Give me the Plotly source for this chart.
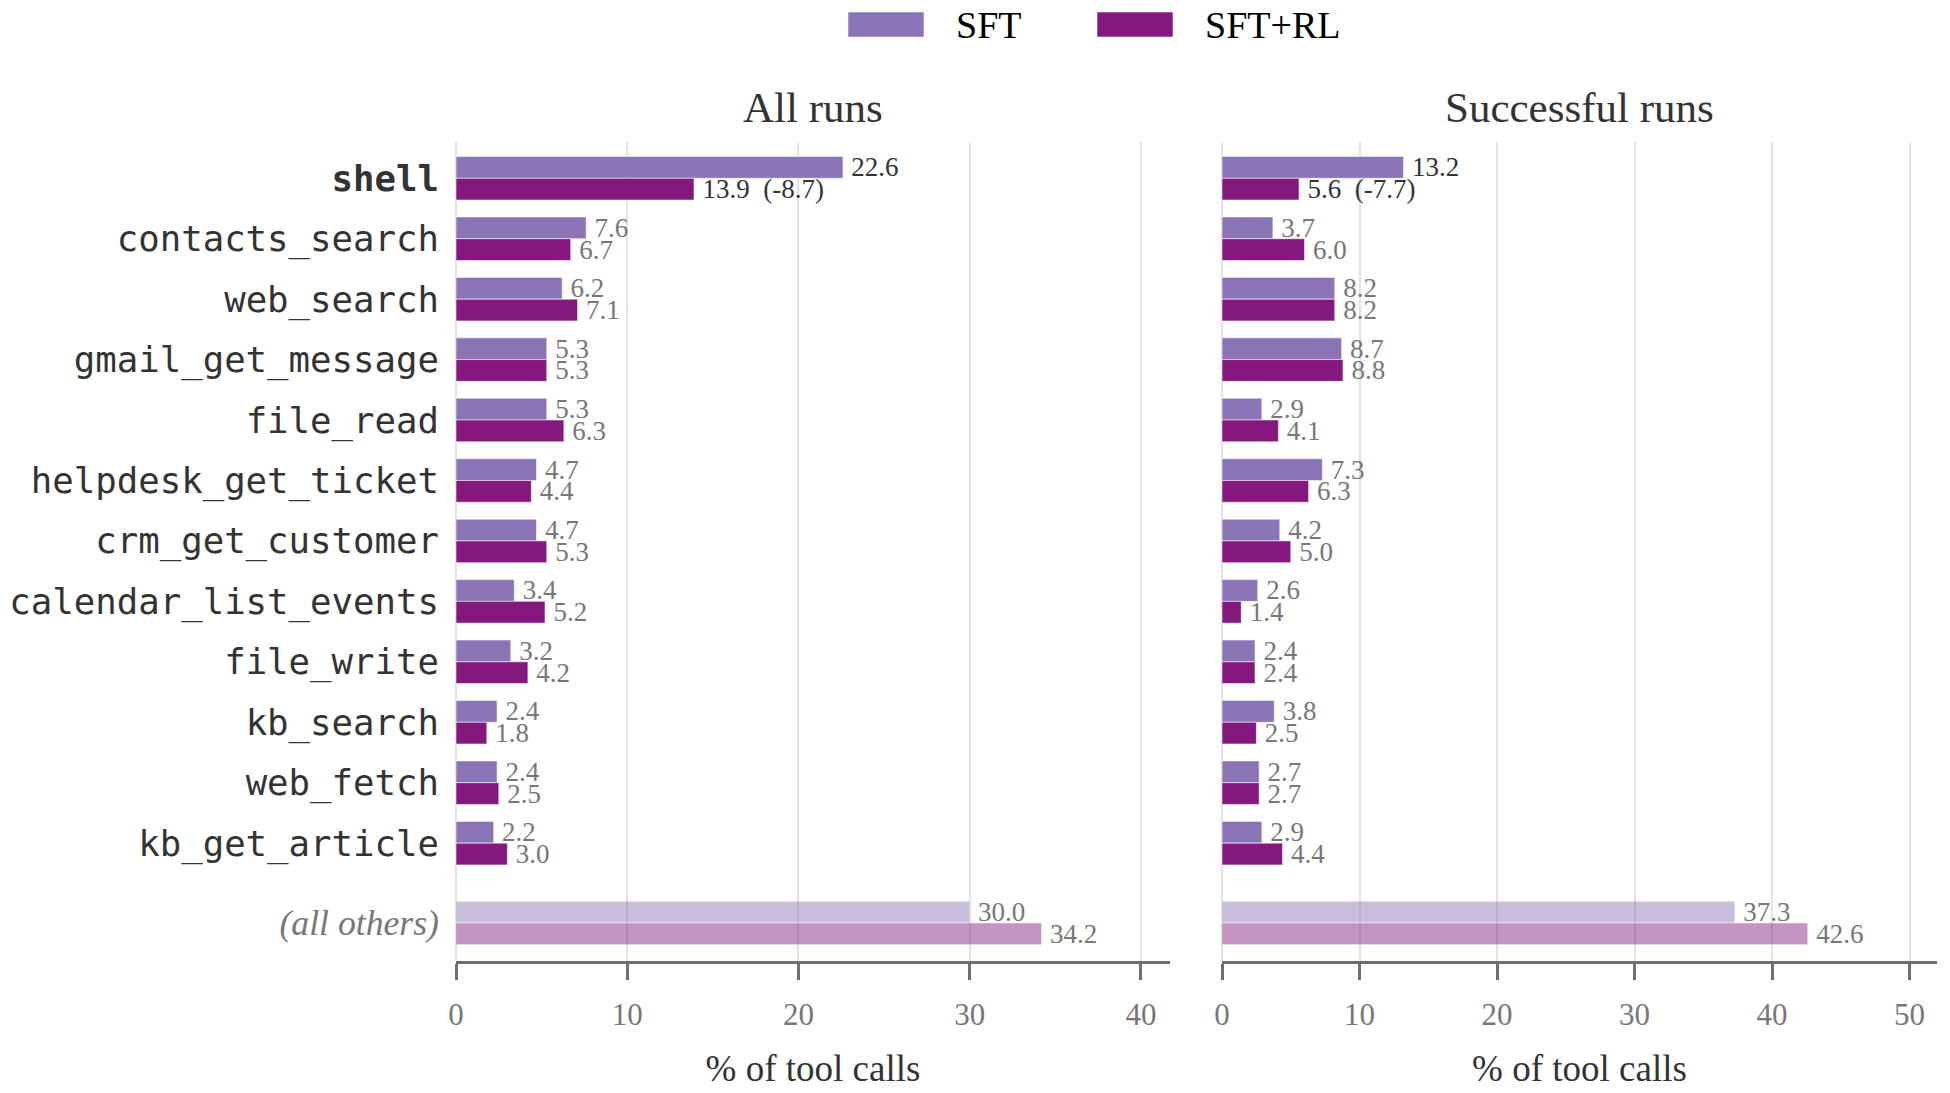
import plotly.graph_objects as go

# ---------------- data ----------------
tools = ["shell", "contacts_search", "web_search", "gmail_get_message", "file_read",
         "helpdesk_get_ticket", "crm_get_customer", "calendar_list_events", "file_write",
         "kb_search", "web_fetch", "kb_get_article", "(all others)"]
row_pos = [0, 1, 2, 3, 4, 5, 6, 7, 8, 9, 10, 11, 12.32]

all_sft = [22.6, 7.6, 6.2, 5.3, 5.3, 4.7, 4.7, 3.4, 3.2, 2.4, 2.4, 2.2, 30.0]
all_rl = [13.9, 6.7, 7.1, 5.3, 6.3, 4.4, 5.3, 5.2, 4.2, 1.8, 2.5, 3.0, 34.2]
succ_sft = [13.2, 3.7, 8.2, 8.7, 2.9, 7.3, 4.2, 2.6, 2.4, 3.8, 2.7, 2.9, 37.3]
succ_rl = [5.6, 6.0, 8.2, 8.8, 4.1, 6.3, 5.0, 1.4, 2.4, 2.5, 2.7, 4.4, 42.6]
shell_delta = [-8.7, -7.7]   # shell change SFT -> SFT+RL, per panel

panel_titles = ["All runs", "Successful runs"]
series_names = ["SFT", "SFT+RL"]
x_ticks = [0, 10, 20, 30, 40, 50]

# ---------------- style ----------------
W, H = 1950, 1093
ML, MR, MT, MB = 456, 13, 142, 132
C_SFT = "#8B74B5"
C_RL = "#84187E"
SERIF = "Liberation Serif"
MONO = "DejaVu Sans Mono"
GRAY = "#777777"
DARK = "#333333"
VAL_SIZE = 27

pw = W - ML - MR
ph = H - MT - MB


def px_x(x):
    return (x - ML) / pw


def px_y(y):
    return 1 - (y - MT) / ph


def labels(sft, rl, delta):
    t_sft = ["\u2009%.1f" % v for v in sft]
    t_rl = ["\u2009%.1f" % v for v in rl]
    t_rl[0] = "\u2009%.1f\u00a0\u00a0(%.1f)" % (rl[0], delta)
    c_sft = [DARK if i == 0 else GRAY for i in range(len(sft))]
    c_rl = [DARK if i == 0 else GRAY for i in range(len(rl))]
    return t_sft, t_rl, c_sft, c_rl


fig = go.Figure()
n = len(tools)
opac = [1.0] * (n - 1) + [0.46]

for k, (sft, rl) in enumerate([(all_sft, all_rl), (succ_sft, succ_rl)]):
    xa = "x" if k == 0 else "x2"
    ya = "y" if k == 0 else "y2"
    t_sft, t_rl, c_sft, c_rl = labels(sft, rl, shell_delta[k])
    for vals, txt, col, tcol, name in [(sft, t_sft, C_SFT, c_sft, series_names[0]),
                                       (rl, t_rl, C_RL, c_rl, series_names[1])]:
        fig.add_trace(go.Bar(
            y=row_pos, x=vals, orientation="h", name=name,
            xaxis=xa, yaxis=ya, showlegend=False,
            marker=dict(color=col, opacity=opac,
                        line=dict(color="rgba(255,255,255,0.55)", width=1)),
            text=txt, textposition="outside", constraintext="none", cliponaxis=False,
            textfont=dict(family=SERIF, size=VAL_SIZE, color=tcol),
            hoverinfo="skip",
        ))

ticktext = []
for t in tools:
    if t == "shell":
        ticktext.append("<b>shell</b>")
    elif t.startswith("("):
        ticktext.append('<span style="font-family:%s;font-style:italic;color:%s">%s</span>'
                        % (SERIF, GRAY, t))
    else:
        ticktext.append(t)

xcommon = dict(
    automargin=False,
    showgrid=True, gridcolor="#e3e3e3", gridwidth=2,
    zeroline=True, zerolinecolor="#e3e3e3", zerolinewidth=2,
    showline=True, linecolor="#6e6e6e", linewidth=3,
    ticks="outside", ticklen=16, tickwidth=3, tickcolor="#6e6e6e",
    ticklabelstandoff=8,
    tickvals=x_ticks, tickfont=dict(family=SERIF, size=31, color=GRAY),
    title=dict(text="% of tool calls", font=dict(family=SERIF, size=37, color=DARK), standoff=24),
)
ycommon = dict(automargin=False, range=[12.95, -0.6], showgrid=False, zeroline=False,
               showline=False, tickvals=row_pos, ticktext=ticktext)

fig.update_layout(
    width=W, height=H, margin=dict(l=ML, r=MR, t=MT, b=MB, autoexpand=False),
    plot_bgcolor="white", paper_bgcolor="white",
    barmode="group", bargap=0.28, bargroupgap=0,
    xaxis=dict(domain=[0, px_x(1170)], range=[0, 41.7], anchor="y", **xcommon),
    xaxis2=dict(domain=[px_x(1222), 1], range=[0, 52], anchor="y2", **xcommon),
    yaxis=dict(anchor="x", ticklabelstandoff=16,
               tickfont=dict(family=MONO, size=35.7, color=DARK), **ycommon),
    yaxis2=dict(anchor="x2", showticklabels=False, **ycommon),
    showlegend=False,
)

# panel titles
for k, (x0, x1) in enumerate([(456, 1170), (1222, 1937)]):
    fig.add_annotation(text=panel_titles[k], xref="paper", yref="paper",
                       x=px_x((x0 + x1) / 2), y=px_y(108), showarrow=False,
                       xanchor="center", yanchor="middle",
                       font=dict(family=SERIF, size=43, color=DARK))

# custom legend
for (sx0, sx1, tx), col, name in [((848, 924, 954), C_SFT, series_names[0]),
                                  ((1097, 1173, 1203), C_RL, series_names[1])]:
    fig.add_shape(type="rect", xref="paper", yref="paper",
                  x0=px_x(sx0), x1=px_x(sx1), y0=px_y(37), y1=px_y(12),
                  fillcolor=col, line=dict(color="rgba(255,255,255,0.55)", width=1))
    fig.add_annotation(text=name, xref="paper", yref="paper", x=px_x(tx), y=px_y(25),
                       showarrow=False, xanchor="left", yanchor="middle",
                       font=dict(family=SERIF, size=38, color="black"))

fig.write_html("out.html")
